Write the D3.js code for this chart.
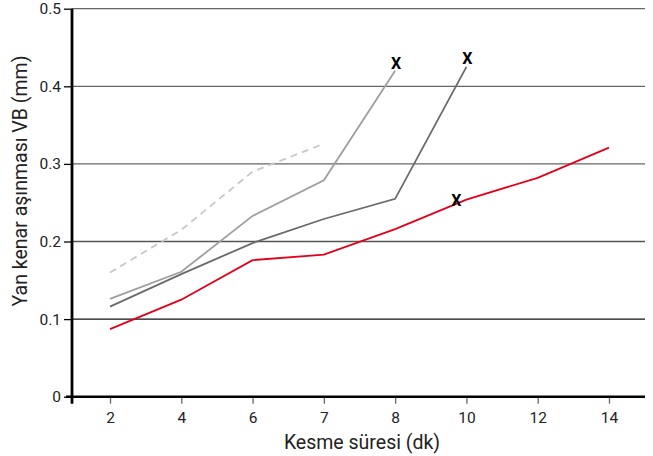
<!DOCTYPE html>
<html><head><meta charset="utf-8">
<script src="https://cdn.jsdelivr.net/npm/d3@7"></script>
<style>
html,body{margin:0;padding:0;background:#fff;}
svg{display:block;font-family:Roboto,"DejaVu Sans",sans-serif;}
</style></head>
<body><svg id="c" width="653" height="456"></svg>
<script>
const categories = ["2","4","6","7","8","10","12","14"];
const yTicks = [0,0.1,0.2,0.3,0.4,0.5];
const yTickLabels = ["0","0.1","0.2","0.3","0.4","0.5"];
const redSeries = [0.087,0.125,0.176,0.183,0.216,0.254,0.282,0.321];
const darkGraySeries = [0.116,0.158,0.198,0.229,0.255,0.425];
const midGraySeries = [0.126,0.161,0.233,0.279,0.42];
const dashedSeries = [0.160,0.215,0.290,0.326];
const markerCats = ["8","10","10"];
const markerVals = [0.42,0.425,0.254];
const xTitle = "Kesme süresi (dk)";
const yTitle = "Yan kenar aşınması VB (mm)";

const svg = d3.select("#c");
const x = d3.scalePoint().domain(categories).range([110,609]);
const y = d3.scaleLinear().domain([0,0.5]).range([396.7,8.7]);
const axisX0 = 72, axisRight = 645;

// gridlines
const gridColors = {0.1:"#111",0.2:"#555",0.3:"#666",0.4:"#666",0.5:"#666"};
svg.append("g").selectAll("line").data(yTicks.filter(d=>d>0)).join("line")
  .attr("x1",axisX0).attr("x2",axisRight)
  .attr("y1",d=>y(d)).attr("y2",d=>y(d))
  .attr("stroke",d=>gridColors[d]).attr("stroke-width",1.3);

// y axis
const yAxis = d3.axisLeft(y).tickValues(yTicks).tickFormat((d,i)=>yTickLabels[i]).tickSize(8).tickPadding(3);
const gy = svg.append("g").attr("transform",`translate(${axisX0},0)`).call(yAxis);
gy.select(".domain").remove();
gy.selectAll(".tick line").attr("stroke","#000").attr("stroke-width",1.3);
gy.selectAll(".tick text").attr("font-size",15.5).attr("fill","#222").attr("font-family","Roboto, sans-serif");

// x axis
const xAxis = d3.axisBottom(x).tickSize(7).tickPadding(8);
const gx = svg.append("g").attr("transform",`translate(0,${y(0)})`).call(xAxis);
gx.select(".domain").remove();
gx.selectAll(".tick line").attr("stroke","#666").attr("stroke-width",1.3);
gx.selectAll(".tick text").attr("font-size",15.5).attr("fill","#222").attr("font-family","Roboto, sans-serif");

// axis lines
svg.append("line").attr("x1",66).attr("x2",axisRight).attr("y1",y(0)).attr("y2",y(0))
  .attr("stroke","#000").attr("stroke-width",2.5);
svg.append("line").attr("x1",axisX0).attr("x2",axisX0).attr("y1",y(0.5)).attr("y2",y(0)+7)
  .attr("stroke","#000").attr("stroke-width",2.8);

// series
const line = d3.line().x(d=>x(d[0])).y(d=>y(d[1]));
function draw(vals,color,dash){
  svg.append("path").datum(vals.map((v,i)=>[categories[i],v]))
    .attr("d",line).attr("fill","none").attr("stroke",color)
    .attr("stroke-width",1.8).attr("stroke-dasharray",dash||null);
}
draw(dashedSeries,"#c8c8c8","7,5");
draw(midGraySeries,"#9e9e9e");
draw(darkGraySeries,"#6a6a6a");
draw(redSeries,"#e3001b");

// X markers
const markerDx = [1,1,-10];
const markerDy = [-6,-7,2];
svg.append("g").selectAll("text").data(markerCats).join("text")
  .attr("x",(d,i)=>x(d)+markerDx[i]).attr("y",(d,i)=>y(markerVals[i])+markerDy[i])
  .attr("text-anchor","middle").attr("dominant-baseline","middle")
  .attr("font-size",16).attr("font-weight","bold").attr("fill","#000")
  .text("X");

// titles
svg.append("text").attr("x",362).attr("y",449).attr("text-anchor","middle")
  .attr("font-size",19.5).attr("fill","#222").text(xTitle);
svg.append("text").attr("transform","translate(27,181) rotate(-90)").attr("text-anchor","middle")
  .attr("font-size",19.5).attr("fill","#222").text(yTitle);
</script></body></html>
